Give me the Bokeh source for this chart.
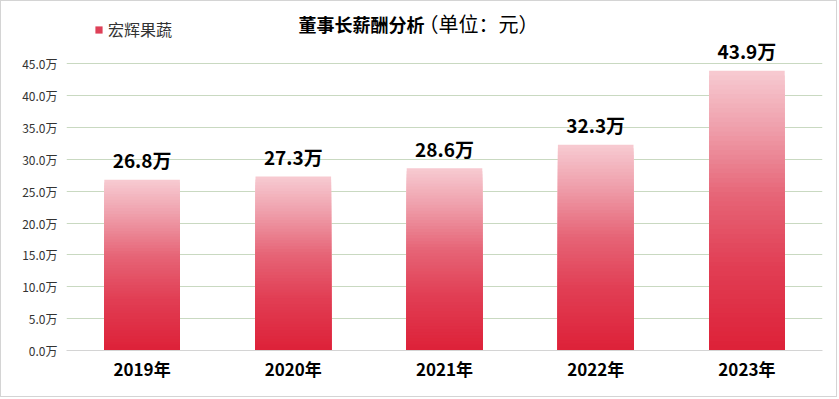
from bokeh.plotting import figure
from bokeh.models import (ColumnDataSource, Range1d, FixedTicker, PrintfTickFormatter,
                          Label, Legend, LegendItem)
from bokeh.core.properties import value
from bokeh.embed import file_html
from bokeh.resources import INLINE

# ---- data ----
years = ["2019年", "2020年", "2021年", "2022年", "2023年"]
pay = [26.8, 27.3, 28.6, 32.3, 43.9]          # 万元
pay_labels = ["26.8万", "27.3万", "28.6万", "32.3万", "43.9万"]
y_ticks = [0, 5, 10, 15, 20, 25, 30, 35, 40, 45]
series_name = "宏辉果蔬"
title_main = "董事长薪酬分析"
title_unit = "（单位：元）"

FONT = "Noto Sans CJK SC"

# gradient stops: fraction of bar height from bottom -> rgb
stops = [(0.0, (221, 33, 56)), (0.3, (225, 62, 84)), (0.55, (230, 100, 118)),
         (0.8, (239, 160, 172)), (1.0, (247, 203, 210))]


def grad(t):
    for (t0, c0), (t1, c1) in zip(stops[:-1], stops[1:]):
        if t <= t1:
            f = (t - t0) / (t1 - t0)
            c = [round(a + (b - a) * f) for a, b in zip(c0, c1)]
            return "#%02x%02x%02x" % tuple(c)
    return "#%02x%02x%02x" % stops[-1][1]


xs = [i + 0.5 for i in range(len(years))]

# gradient: overlapping bars from 0, tallest (lightest) drawn first
N = 60
seg = dict(x=[], top=[], color=[])
for k in range(N, 0, -1):
    for x, v in zip(xs, pay):
        seg["x"].append(x)
        seg["top"].append(v * k / N)
        seg["color"].append(grad((k - 0.5) / N))

p = figure(width=837, height=397, x_range=Range1d(0, len(years)), y_range=Range1d(0, 54.78),
           output_backend="svg", toolbar_location=None,
           min_border_left=65, min_border_right=16, min_border_top=0, min_border_bottom=48)
p.styles = {"border": "1px solid #d4d4d4"}
p.outline_line_color = None
p.background_fill_color = "white"

p.vbar(x="x", bottom=0, top="top", width=0.5, source=ColumnDataSource(seg),
       fill_color="color", line_color=None)

p.text(x=xs, y=pay, text=pay_labels, text_align="center", text_baseline="middle",
       y_offset=-20, text_font=value(FONT), text_font_style="bold",
       text_font_size="19px", text_color="#000000")

# axes
p.xaxis.ticker = FixedTicker(ticks=xs)
p.xaxis.major_label_overrides = {x: y for x, y in zip(xs, years)}
p.xaxis.axis_line_color = "#d4d4d4"
p.xaxis.major_tick_line_color = None
p.xaxis.major_tick_out = 0
p.xaxis.minor_tick_line_color = None
p.xaxis.minor_tick_out = 0
p.xaxis.major_label_standoff = 5
p.xaxis.major_label_text_font = FONT
p.xaxis.major_label_text_font_style = "bold"
p.xaxis.major_label_text_font_size = "17px"
p.xaxis.major_label_text_color = "#000000"

p.yaxis.ticker = FixedTicker(ticks=y_ticks)
p.yaxis.formatter = PrintfTickFormatter(format="%.1f万")
p.yaxis.axis_line_color = None
p.yaxis.major_tick_line_color = None
p.yaxis.major_tick_out = 0
p.yaxis.minor_tick_line_color = None
p.yaxis.minor_tick_out = 0
p.yaxis.major_label_standoff = 9
p.yaxis.major_label_text_font = FONT
p.yaxis.major_label_text_font_size = "12px"
p.yaxis.major_label_text_color = "#333333"

p.xgrid.visible = False
p.ygrid.ticker = FixedTicker(ticks=y_ticks[1:])
p.ygrid.grid_line_color = "#c9d9c1"

# title
p.add_layout(Label(x=232, y=327, x_units="screen", y_units="screen", text=title_main,
                   text_font=FONT, text_font_style="bold", text_font_size="18px",
                   text_baseline="middle", text_align="left", text_color="#000000"))
p.add_layout(Label(x=352, y=327, x_units="screen", y_units="screen", text=title_unit,
                   text_font=FONT, text_font_size="20px",
                   text_baseline="middle", text_align="left", text_color="#000000"))

# legend swatch renderer (zero-height bar, nothing visible in the plot)
leg_r = p.vbar(x=[xs[0]], bottom=[0], top=[0], width=0.5, fill_color="#de4058", line_color=None)
legend = Legend(items=[LegendItem(label=series_name, renderers=[leg_r])],
                location=(28, 309), orientation="horizontal",
                glyph_width=9, glyph_height=9, label_height=16, padding=0, margin=0,
                spacing=0, label_standoff=5, background_fill_alpha=0, border_line_alpha=0,
                label_text_font=FONT, label_text_font_size="16px", label_text_color="#333333")
p.add_layout(legend)

open("out.html", "w").write(file_html(p, INLINE))
